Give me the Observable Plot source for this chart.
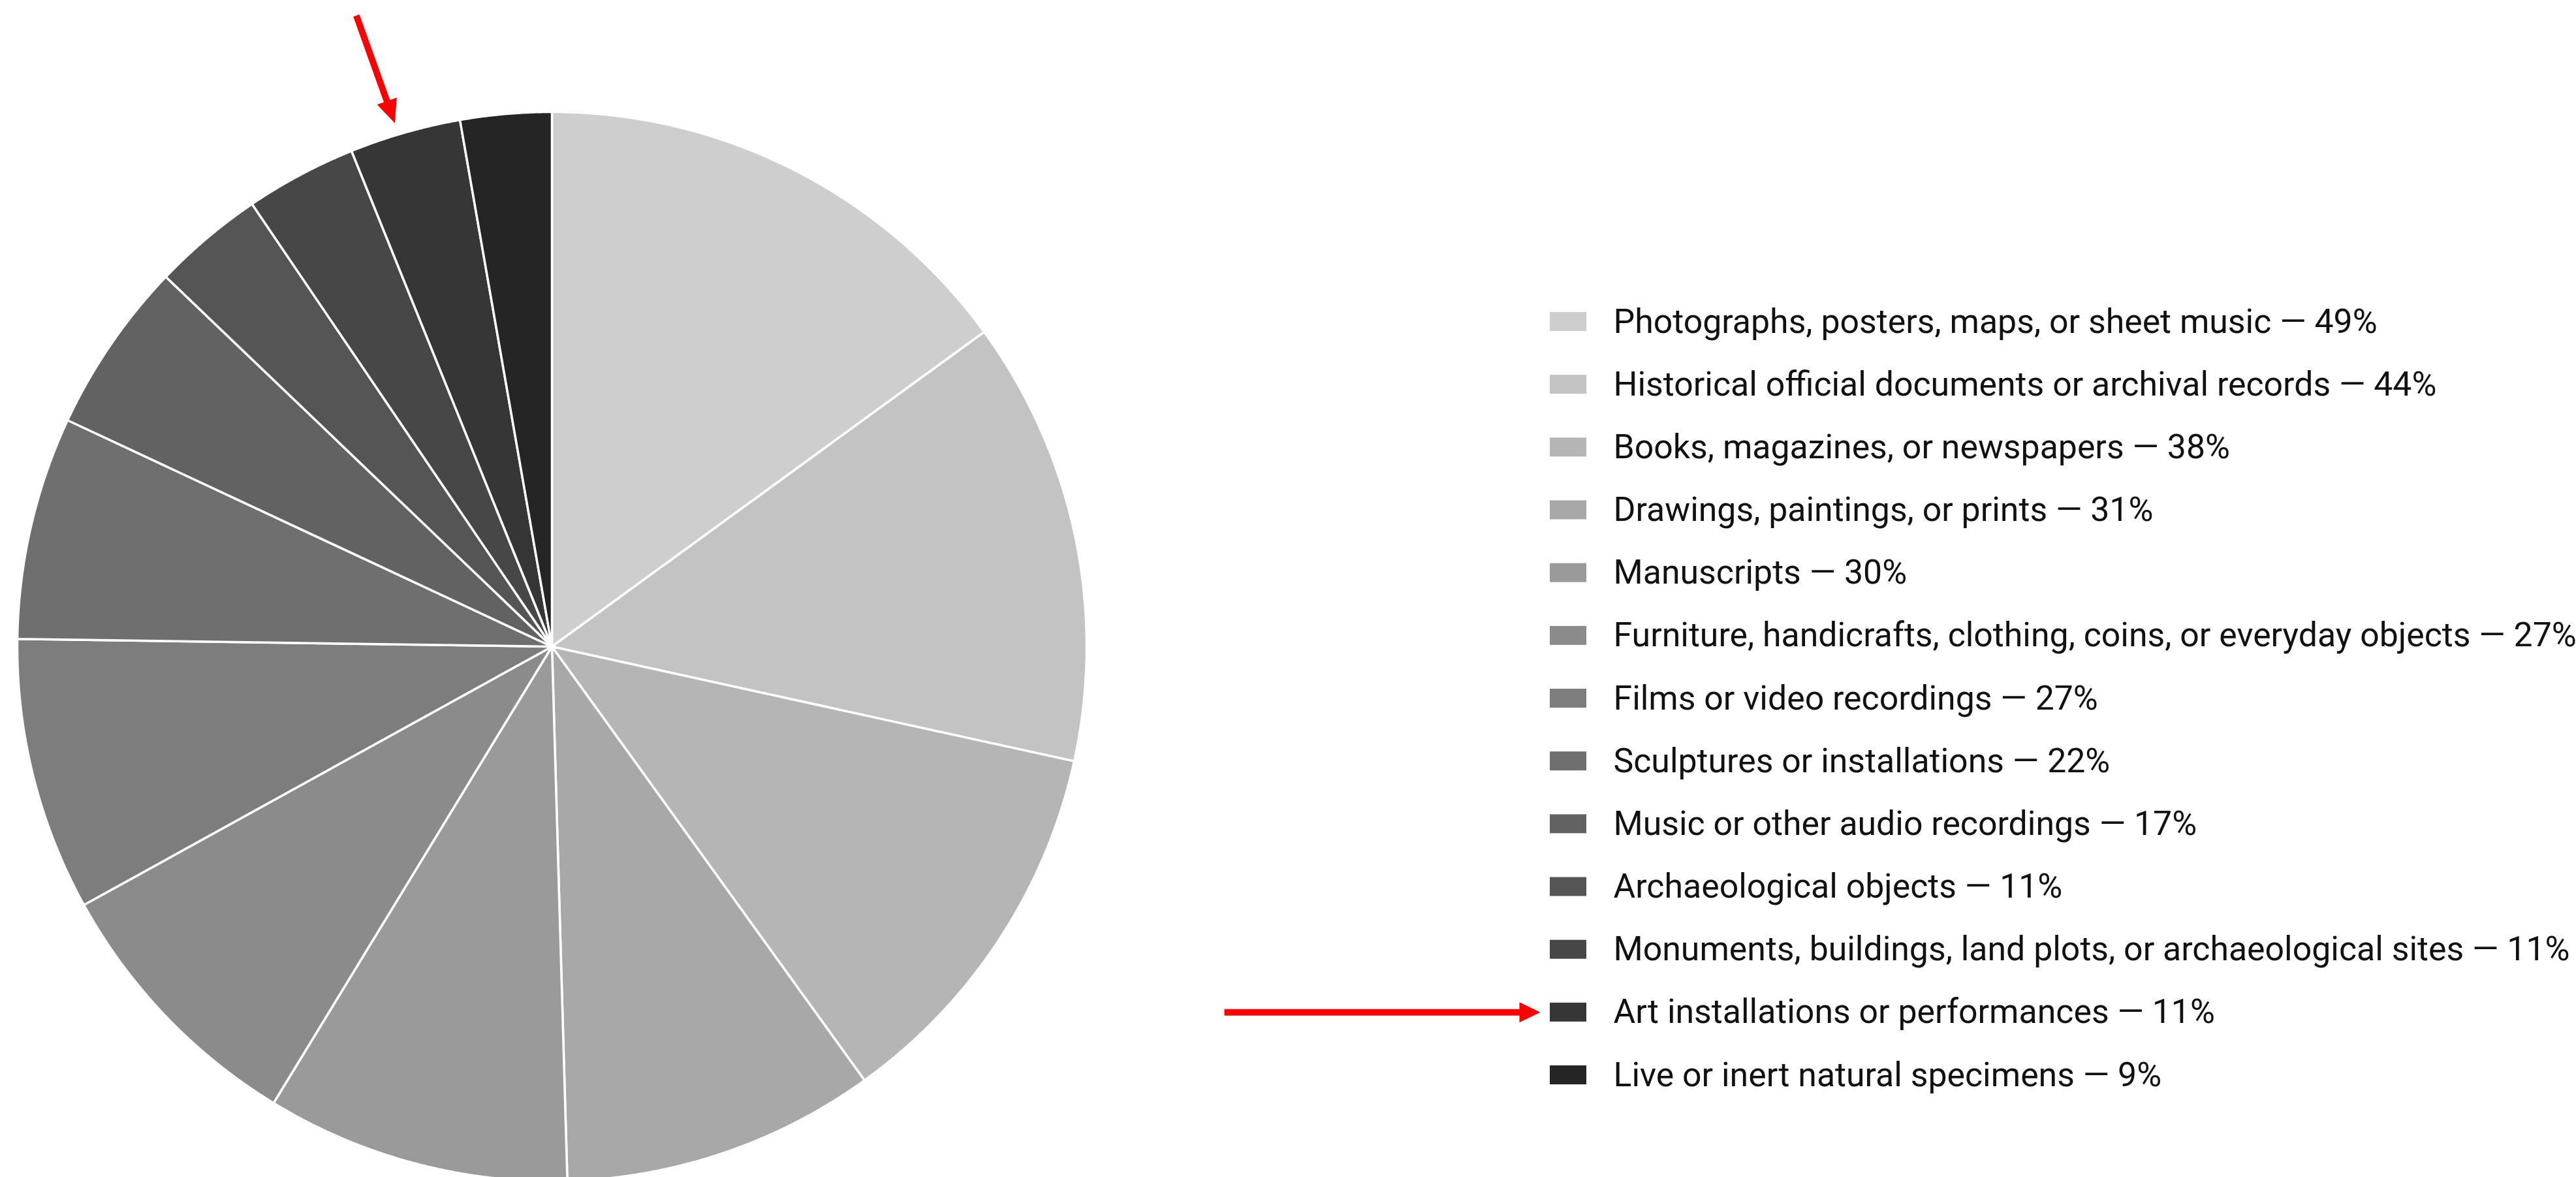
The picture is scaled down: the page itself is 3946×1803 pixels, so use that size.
<!DOCTYPE html>
<html>
<head>
<meta charset="utf-8">
<script src="https://cdn.jsdelivr.net/npm/d3@7"></script>
<script src="https://cdn.jsdelivr.net/npm/@observablehq/plot@0.6"></script>
<style>
  html, body { margin: 0; padding: 0; background: #ffffff; overflow: hidden; }
  #chart { width: 3946px; height: 1803px; }
</style>
</head>
<body>
<div id="chart"></div>
<script>
// ---- Data ----
const categories = [
  "Photographs, posters, maps, or sheet music",
  "Historical official documents or archival records",
  "Books, magazines, or newspapers",
  "Drawings, paintings, or prints",
  "Manuscripts",
  "Furniture, handicrafts, clothing, coins, or everyday objects",
  "Films or video recordings",
  "Sculptures or installations",
  "Music or other audio recordings",
  "Archaeological objects",
  "Monuments, buildings, land plots, or archaeological sites",
  "Art installations or performances",
  "Live or inert natural specimens"
];
const values = [49, 44, 38, 31, 30, 27, 27, 22, 17, 11, 11, 11, 9];
const grays = [
  "#cecece", "#c3c3c3", "#b5b5b5", "#a8a8a8", "#9a9a9a", "#8b8b8b", "#7d7d7d",
  "#6f6f6f", "#626262", "#555555", "#474747", "#363636", "#252525"
];
const highlighted = "Art installations or performances";

// ---- Layout ----
const W = 3946, H = 1803;
const cx = 845, cy = 990, R = 819;
const legX = 2374, legSwW = 56, legSwH = 29, legTextX = 2471;
const legTop = 492.5, legStep = 96.17;

const data = categories.map((c, i) => ({category: c, value: values[i], index: i}));

// Pie slices as filled polygons (angles from d3.pie, clockwise from 12 o'clock)
const arcs = d3.pie().sort(null).value(d => d.value)(data);
const slicePts = arcs.flatMap(a => {
  const c = a.data.category;
  const pts = [{category: c, x: cx, y: cy}];
  const n = Math.max(4, Math.ceil((a.endAngle - a.startAngle) / (Math.PI / 720)));
  for (let i = 0; i <= n; i++) {
    const ang = a.startAngle + (a.endAngle - a.startAngle) * i / n;
    pts.push({category: c, x: cx + R * Math.sin(ang), y: cy - R * Math.cos(ang)});
  }
  pts.push({category: c, x: cx, y: cy});
  return pts;
});

const rowY = d => legTop + d.index * legStep;

// Annotation arrows: one pointing at the highlighted slice, one at its legend row
const hiArc = arcs.find(a => a.data.category === highlighted);
const hiRow = data.find(d => d.category === highlighted);
const tipA = (hiArc.startAngle + hiArc.endAngle) / 2 - 0.013;
const tipX = cx + (R + 18) * Math.sin(tipA), tipY = cy - (R + 18) * Math.cos(tipA);
const arrows = [
  {id: "slice", x1: tipX - 59, y1: tipY - 165, x2: tipX, y2: tipY, headLen: 36, headW: 32},
  {id: "legend", x1: 1875, y1: rowY(hiRow), x2: legX - 15, y2: rowY(hiRow), headLen: 32, headW: 31}
];
const shafts = arrows.map(a => {
  const dx = a.x2 - a.x1, dy = a.y2 - a.y1, L = Math.hypot(dx, dy);
  const ux = dx / L, uy = dy / L;
  return {id: a.id, x1: a.x1, y1: a.y1, x2: a.x2 - ux * (a.headLen - 2), y2: a.y2 - uy * (a.headLen - 2)};
});
const heads = arrows.flatMap(a => {
  const dx = a.x2 - a.x1, dy = a.y2 - a.y1, L = Math.hypot(dx, dy);
  const ux = dx / L, uy = dy / L, px = -uy, py = ux;
  const bx = a.x2 - ux * a.headLen, by = a.y2 - uy * a.headLen;
  return [
    {id: a.id, x: a.x2, y: a.y2},
    {id: a.id, x: bx + px * a.headW / 2, y: by + py * a.headW / 2},
    {id: a.id, x: bx - px * a.headW / 2, y: by - py * a.headW / 2},
    {id: a.id, x: a.x2, y: a.y2}
  ];
});

const chart = Plot.plot({
  width: W,
  height: H,
  margin: 0,
  style: {fontFamily: "Roboto, 'Noto Sans', sans-serif", background: "#ffffff", overflow: "hidden"},
  x: {type: "linear", domain: [0, W], range: [0, W], axis: null},
  y: {type: "linear", domain: [0, H], range: [0, H], axis: null},
  color: {type: "ordinal", domain: categories, range: grays},
  marks: [
    Plot.line(slicePts, {
      x: "x", y: "y", z: "category", fill: "category",
      stroke: "#ffffff", strokeWidth: 3.5, strokeLinejoin: "round", curve: "linear"
    }),
    Plot.rect(data, {
      x1: () => legX, x2: () => legX + legSwW,
      y1: d => rowY(d) - legSwH / 2, y2: d => rowY(d) + legSwH / 2,
      fill: "category"
    }),
    Plot.text(data, {
      x: () => legTextX, y: rowY,
      text: d => `${d.category} \u2014 ${d.value}%`,
      textAnchor: "start", fontSize: 51.8, fill: "#111111"
    }),
    Plot.link(shafts, {
      x1: "x1", y1: "y1", x2: "x2", y2: "y2",
      stroke: "#ff0000", strokeWidth: 10, strokeLinecap: "butt"
    }),
    Plot.line(heads, {
      x: "x", y: "y", z: "id", fill: "#ff0000", stroke: "none"
    })
  ]
});
document.getElementById("chart").appendChild(chart);
</script>
</body>
</html>
